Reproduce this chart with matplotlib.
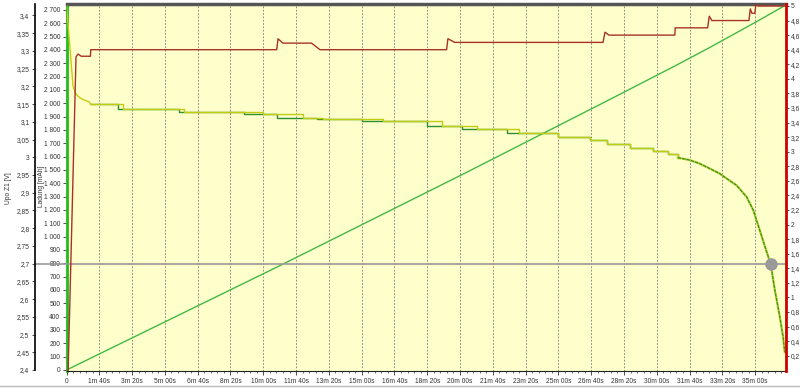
import numpy as np
import matplotlib
matplotlib.use("Agg")
from matplotlib import pyplot as plt
from matplotlib.ticker import FixedLocator, MultipleLocator, FuncFormatter

# voltage trace (yellow), time in seconds
volt_t = [0, 20, 26, 32, 41, 50, 70, 74, 172, 358, 599, 721, 782, 965, 1145, 1252, 1380,
          1499, 1596, 1647, 1718, 1789, 1834, 1864, 1901, 1931, 1962, 1992, 2013, 2043,
          2074, 2094, 2114, 2135, 2147, 2160, 2175, 2185, 2190]
volt_v = [3.43, 3.20, 3.184, 3.175, 3.168, 3.163, 3.156, 3.149, 3.137, 3.128, 3.121, 3.112,
          3.109, 3.102, 3.088, 3.079, 3.068, 3.057, 3.049, 3.037, 3.027, 3.018, 3.008, 2.999,
          2.992, 2.982, 2.968, 2.954, 2.940, 2.921, 2.888, 2.851, 2.794, 2.733, 2.700, 2.625,
          2.55, 2.494, 2.45]
# second voltage trace (green), steps a bit earlier
volt2_t = [74, 157, 343, 541, 642, 764, 900, 1098, 1205, 1342, 1499, 1596, 1647, 1718, 1789, 1834, 1864]
volt2_v = [3.149, 3.137, 3.128, 3.121, 3.112, 3.109, 3.102, 3.088, 3.079, 3.068, 3.057, 3.049,
           3.037, 3.027, 3.018, 3.008, 2.999]

# current [A] (red)
cur_t = [0, 5, 29, 35, 45, 73, 74, 641, 645, 660, 747, 773, 1159, 1163, 1184, 1636, 1642, 1654,
         1855, 1856, 1955, 1960, 1968, 2081, 2085, 2090, 2099, 2102, 2108, 2193]
cur_i = [0, 0, 4.30, 4.34, 4.31, 4.31, 4.40, 4.40, 4.55, 4.49, 4.49, 4.40, 4.40, 4.55, 4.50,
         4.50, 4.64, 4.60, 4.60, 4.70, 4.70, 4.86, 4.80, 4.80, 4.96, 4.90, 4.90, 5.03, 5.00, 5.00]

# charge [mAh] (green)
chg_t = [0, 641, 1205, 1632, 1855, 1960, 2100, 2193]
chg_q = [0, 771, 1464, 1998, 2280, 2417, 2607, 2737]

cutoff_v = 2.7
cutoff_t = 2147

plt.rcParams["font.family"] = ["Liberation Sans", "DejaVu Sans"]

W, H = 800, 389
x0, x1, ytop, ybot = 66.5, 785.7, 4, 370.5
fig = plt.figure(figsize=(W / 100, H / 100), dpi=100)
fig.patch.set_facecolor("white")
ax = fig.add_axes([x0 / W, 1 - ybot / H, (x1 - x0) / W, (ybot - ytop) / H])
ax.set_facecolor("#ffffcc")

fs = 4.8
tc = "#333333"

# charge axis
ax.set_xlim(0, 2193)
ax.set_ylim(-3.75, 2745)
ax.plot(chg_t, chg_q, color="#44b844", lw=1.0, zorder=3)
ax.yaxis.set_major_locator(FixedLocator(np.arange(0, 2701, 100)))
ax.yaxis.set_major_formatter(FuncFormatter(lambda v, p: f"{int(v):,}".replace(",", " ")))
ax.tick_params(axis="y", labelsize=fs, colors=tc, length=3, width=0.6, pad=1.5)
ax.spines["left"].set_color("#22bb22")
ax.spines["left"].set_linewidth(2)
ax.spines["top"].set_color("#555555")
ax.spines["top"].set_linewidth(2.5)
ax.spines["right"].set_visible(False)
ax.spines["bottom"].set_color("#222222")

# x axis
def fmt_time(v, p):
    s = int(round(v))
    if s == 0:
        return "0"
    return f"{s // 60}m {s % 60:02d}s"

ax.xaxis.set_major_locator(MultipleLocator(100))
ax.xaxis.set_minor_locator(MultipleLocator(20))
ax.xaxis.set_major_formatter(FuncFormatter(fmt_time))
ax.tick_params(axis="x", which="major", labelsize=fs, colors=tc, length=3, width=0.6, pad=2.5)
ax.tick_params(axis="x", which="minor", length=1.5, width=0.5, colors=tc)
ax.grid(axis="x", which="major", color="#777777", linestyle=(0, (2, 2)), lw=0.6)
ax.set_axisbelow(True)

# voltage axis (spine offset given in points)
axv = ax.twinx()
axv.set_ylim(2.4 - 0.5 / 355, 2.4 + 366.5 / 355)
axv.yaxis.set_ticks_position("left")
axv.yaxis.set_label_position("left")
axv.spines["left"].set_position(("outward", (x0 - 35) * 0.72))
axv.spines["left"].set_color("black")
axv.spines["left"].set_linewidth(1.2)
for s in ["right", "top", "bottom"]:
    axv.spines[s].set_visible(False)
axv.yaxis.set_major_locator(FixedLocator(np.round(np.arange(2.4, 3.401, 0.05), 2)))
axv.yaxis.set_major_formatter(FuncFormatter(
    lambda v, p: f"{v:.2f}".rstrip("0").rstrip(".").replace(".", ",")))
axv.tick_params(axis="y", labelsize=fs, colors=tc, length=2.5, width=0.6, pad=1.5)

axv.axhline(cutoff_v, xmin=-(x0 - 35) / (x1 - x0), xmax=1, color="#999999", lw=1.2,
            clip_on=False, zorder=2)

n0 = volt_t.index(74)
n1 = volt_t.index(1864)
axv.step(volt2_t, volt2_v, where="post", color="#2f8f2f", lw=1.0, zorder=3)
axv.plot(volt_t[:n0 + 1], volt_v[:n0 + 1], color="#c8cc10", lw=1.0, zorder=4)
axv.step(volt_t[n0:n1 + 1], volt_v[n0:n1 + 1], where="post", color="#c0cc10", lw=1.0, zorder=4)
axv.plot(volt_t[n1:], volt_v[n1:], color="#b8cc20", lw=1.6, zorder=4)
axv.plot(volt_t[n1:], volt_v[n1:], color="#2f8f2f", lw=0.8, ls=(0, (3, 1)), zorder=5)
axv.plot([cutoff_t], [cutoff_v], "o", color="#999999", ms=8, zorder=6)

# current axis
axi = ax.twinx()
axi.set_ylim(-0.003, 5.027)
axi.plot(cur_t, cur_i, color="#a83228", lw=1.0, zorder=3)
for s in ["left", "top", "bottom"]:
    axi.spines[s].set_visible(False)
axi.spines["right"].set_color("#d00000")
axi.spines["right"].set_linewidth(2)
axi.yaxis.set_major_locator(FixedLocator(np.round(np.arange(0.2, 5.01, 0.2), 1)))
axi.yaxis.set_major_formatter(FuncFormatter(
    lambda v, p: f"{v:.1f}".rstrip("0").rstrip(".").replace(".", ",")))
axi.tick_params(axis="y", labelsize=fs, colors=tc, length=2.5, width=0.6, pad=1.0)

fig.text(8 / W, 1 - 188 / H, "Upo Z1 [V]", rotation=90, ha="center", va="center",
         fontsize=fs, color=tc)
fig.text(41.5 / W, 1 - 186 / H, "Ladung [mAh]", rotation=90, ha="center", va="center",
         fontsize=fs, color=tc)

# window frame line at bottom
fig.add_artist(plt.Line2D([0, 1], [1 - 386 / H, 1 - 386 / H], color="#bbbbbb", lw=1))

fig.savefig("out.png", dpi=100)
